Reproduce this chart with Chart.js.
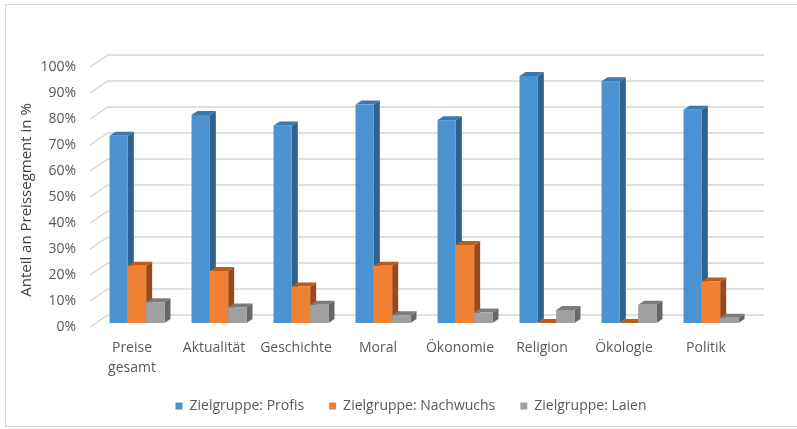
<!DOCTYPE html>
<html>
<head>
<meta charset="utf-8">
<script src="https://cdn.jsdelivr.net/npm/chart.js@4.4.1/dist/chart.umd.min.js"></script>
<style>
  html, body { margin: 0; padding: 0; background: #fff; }
  #wrap { width: 797px; height: 429px; position: relative; }
</style>
</head>
<body>
<div id="wrap"><canvas id="chart"></canvas></div>
<script>
const categories = [['Preise', 'gesamt'], 'Aktualität', 'Geschichte', 'Moral', 'Ökonomie', 'Religion', 'Ökologie', 'Politik'];
const seriesNames = ['Zielgruppe: Profis', 'Zielgruppe: Nachwuchs', 'Zielgruppe: Laien'];
const profis = [72, 80, 76, 84, 78, 95, 93, 82];
const nachwuchs = [22, 20, 14, 22, 30, 0, 0, 16];
const laien = [8, 6, 7, 3, 4, 5, 7, 2];
const yTicks = [0, 10, 20, 30, 40, 50, 60, 70, 80, 90, 100];

// face colours: front, side, top
const faces = [
  { front: '#4a93d0', side: '#2e6390', top: '#3a78ad' },
  { front: '#f08133', side: '#9a4a18', top: '#c05a18' },
  { front: '#a0a0a0', side: '#676767', top: '#7c7c7c' }
];

// depth of the bars and of the plot walls
const BAR_DX = 6, BAR_DY = 4;
const FRONT_DX = -6, FRONT_DY = 4;
const BACK_DX = 12, BACK_DY = -8;

const fontFamily = '"Open Sans", sans-serif';

const threeD = {
  id: 'threeD',
  afterLayout(chart) {
    // centre the legend under the plot, not the canvas
    const lg = chart.legend;
    lg.left += 35; lg.right += 35;
    lg.top -= 6; lg.bottom -= 6;
  },
  beforeDatasetsDraw(chart) {
    const { ctx, chartArea: a, scales: { y } } = chart;
    ctx.save();
    ctx.strokeStyle = '#d6d6d6';
    ctx.lineWidth = 1.5;
    yTicks.forEach(v => {
      const py = y.getPixelForValue(v);
      ctx.beginPath();
      ctx.moveTo(a.left + FRONT_DX, py + FRONT_DY);
      ctx.lineTo(a.left + BACK_DX, py + BACK_DY);
      ctx.lineTo(a.right + BACK_DX, py + BACK_DY);
      ctx.stroke();
    });
    ctx.restore();
  },
  beforeDatasetDraw() {
    return false;
  },
  afterDatasetsDraw(chart) {
    const ctx = chart.ctx;
    const metas = chart.data.datasets.map((d, i) => chart.getDatasetMeta(i));
    ctx.save();
    for (let c = 0; c < categories.length; c++) {
      metas.forEach((meta, d) => {
        const bar = meta.data[c];
        const col = faces[d];
        const l = bar.x - bar.width / 2;
        const r = bar.x + bar.width / 2;
        const t = bar.y;
        const b = bar.base;
        // side
        ctx.fillStyle = col.side;
        ctx.beginPath();
        ctx.moveTo(r, t);
        ctx.lineTo(r + BAR_DX, t - BAR_DY);
        ctx.lineTo(r + BAR_DX, b - BAR_DY);
        ctx.lineTo(r, b);
        ctx.closePath();
        ctx.fill();
        // top
        ctx.fillStyle = col.top;
        ctx.beginPath();
        ctx.moveTo(l, t);
        ctx.lineTo(l + BAR_DX, t - BAR_DY);
        ctx.lineTo(r + BAR_DX, t - BAR_DY);
        ctx.lineTo(r, t);
        ctx.closePath();
        ctx.fill();
        // front
        ctx.fillStyle = col.front;
        ctx.fillRect(l, t, r - l, b - t);
      });
    }
    ctx.restore();
  },
  afterDraw(chart) {
    const ctx = chart.ctx;
    ctx.save();
    // frame
    ctx.strokeStyle = '#d9d9d9';
    ctx.lineWidth = 1;
    ctx.strokeRect(5.5, 4.5, 800, 422);
    // axis title
    ctx.translate(27, 200);
    ctx.rotate(-Math.PI / 2);
    ctx.fillStyle = '#404040';
    ctx.font = '15px ' + fontFamily;
    ctx.textAlign = 'center';
    ctx.textBaseline = 'middle';
    ctx.fillText('Anteil an Preissegment in %', 0, 0);
    ctx.restore();
  }
};

new Chart(document.getElementById('chart'), {
  type: 'bar',
  data: {
    labels: categories,
    datasets: [
      { label: seriesNames[0], data: profis, backgroundColor: faces[0].front, borderWidth: 0 },
      { label: seriesNames[1], data: nachwuchs, backgroundColor: faces[1].front, borderWidth: 0 },
      { label: seriesNames[2], data: laien, backgroundColor: faces[2].front, borderWidth: 0 }
    ]
  },
  options: {
    responsive: true,
    maintainAspectRatio: false,
    animation: false,
    layout: { padding: { left: 0, right: 45, top: 63, bottom: 0 } },
    datasets: { bar: { categoryPercentage: 0.67, barPercentage: 1.0 } },
    scales: {
      x: {
        grid: { display: false },
        border: { display: false },
        ticks: {
          color: '#595959',
          font: { family: fontFamily, size: 14, lineHeight: 1.43 },
          padding: 7,
          labelOffset: -5,
          maxRotation: 0,
          autoSkip: false
        },
        afterFit(scale) { scale.height = 57; }
      },
      y: {
        min: 0,
        max: 100,
        grid: { display: false },
        border: { display: false },
        ticks: {
          stepSize: 10,
          color: '#595959',
          font: { family: fontFamily, size: 14 },
          padding: 12,
          labelOffset: 4,
          callback: v => v + '%'
        },
        afterFit(scale) { scale.width = 96; }
      }
    },
    plugins: {
      tooltip: { enabled: false },
      legend: {
        position: 'bottom',
        labels: {
          boxWidth: 7,
          boxHeight: 7,
          padding: 25,
          color: '#595959',
          font: { family: fontFamily, size: 14 }
        }
      }
    }
  },
  plugins: [threeD]
});
</script>
</body>
</html>
